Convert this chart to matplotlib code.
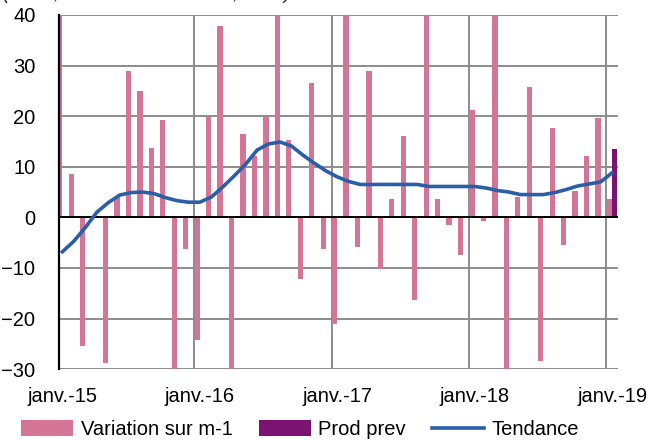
import numpy as np
import matplotlib
matplotlib.use("Agg")
import matplotlib.pyplot as plt

plt.rcParams['font.family'] = ['Liberation Sans', 'DejaVu Sans']

# monthly data, janv.-15 .. janv.-19 (49 months)
variation = [
    45, 8.5, -25.5, 0.0, -28.7, 4.0, 29.0, 25.0, 13.7, 19.3, -35, -6.2,      # 2015
    -24.3, 19.8, 37.8, -35, 16.5, 12.1, 19.8, 45, 15.3, -12.2, 26.6, -6.2,   # 2016
    -21.0, 45, -5.9, 29.0, -10.2, 3.7, 16.1, -16.3, 45, 3.7, -1.5, -7.5,     # 2017
    21.3, -0.7, 45, -35, 4.1, 25.8, -28.3, 17.7, -5.5, 5.3, 12.1, 19.7,      # 2018
    3.7,                                                                      # 2019
]
prod_prev = 13.5  # janv.-19
tendance = [
    -6.8, -4.7, -2.0, 1.0, 2.9, 4.4, 4.9, 5.0, 4.7, 3.9, 3.3, 3.0,
    3.0, 4.0, 6.0, 8.2, 10.5, 13.3, 14.5, 14.9, 14.1, 12.3, 10.7, 9.2,
    8.0, 7.1, 6.5, 6.5, 6.5, 6.5, 6.5, 6.5, 6.1, 6.1, 6.1, 6.1,
    6.1, 5.8, 5.3, 5.0, 4.5, 4.5, 4.5, 4.9, 5.5, 6.2, 6.6, 7.0,
    8.8,
]
tick_labels = ['janv.-15', 'janv.-16', 'janv.-17', 'janv.-18', 'janv.-19']

pink = '#d47596'
purple = '#7b1372'
blue = '#2a5ea8'
grid = '#8c8c8c'

x = np.arange(len(variation))
w = 0.46

fig = plt.figure(figsize=(6.52, 4.41), dpi=100)
ax = fig.add_axes([0.0905, 0.163, 0.857, 0.803])

b1 = ax.bar(x - w / 2, variation, width=w, color=pink, label='Variation sur m-1', zorder=2)
b2 = ax.bar([x[-1] + w / 2], [prod_prev], width=w, color=purple, label='Prod prev', zorder=2)
l1, = ax.plot(x, tendance, color=blue, lw=2.6, label='Tendance', zorder=4,
              solid_joinstyle='round')

ax.set_ylim(-30, 40)
ax.set_xlim(-0.3, 48.5)
ax.set_yticks(range(-30, 41, 10))

# gridlines at year boundaries, labels on january
for b in range(0, 49, 12):
    ax.axvline(b - 0.5, color=grid, lw=1.4, zorder=1)
for yv in range(-30, 41, 10):
    ax.axhline(yv, color=grid, lw=1.4, zorder=1)
ax.axhline(0, color='black', lw=1.4, zorder=3)

ax.set_xticks(range(0, 49, 12))
ax.set_xticklabels(tick_labels)
ax.tick_params(axis='x', length=0, pad=13, labelsize=14.5)
ax.tick_params(axis='y', length=0, pad=17, labelsize=14.5)

for s in ['top', 'right', 'bottom']:
    ax.spines[s].set_visible(False)
ax.spines['left'].set_color('black')
ax.spines['left'].set_linewidth(1.6)
ax.spines['left'].set_zorder(5)

# title sits mostly above the picture, as in the source
fig.text(0.005, 1 + 1 / 441, '(en %, variation mensuelle, CVS)', style='italic',
         fontsize=14, va='baseline', ha='left', color='#222222')

fig.legend([b1, b2, l1], ['Variation sur m-1', 'Prod prev', 'Tendance'],
           loc='lower left', bbox_to_anchor=(0.02, -0.014), ncol=3, frameon=False,
           fontsize=14.5, handlelength=2.6, handleheight=0.8, handletextpad=0.35,
           columnspacing=1.3, borderaxespad=0)

fig.savefig('out.png', dpi=100)
